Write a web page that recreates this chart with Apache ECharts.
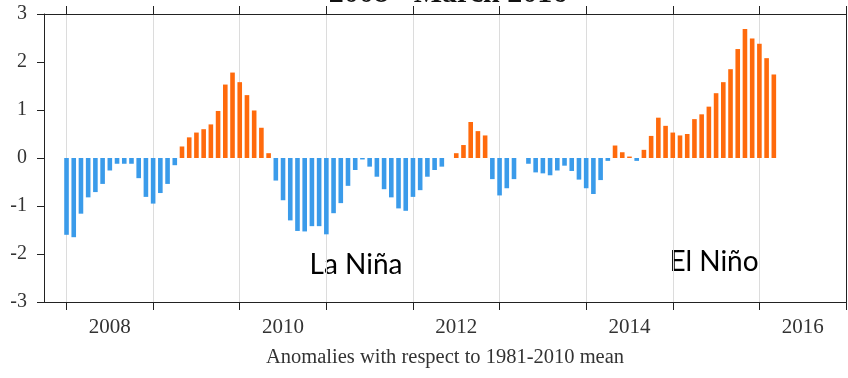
<!DOCTYPE html>
<html lang="en">
	<head>
		<meta charset="utf-8" />
		<title>ENSO anomalies</title>
		<style>
			body { margin: 0; background: #fff; }
		</style>
	</head>
	<body>
		<div id="main" style="width: 848px; height: 378px;"></div>

		<script src="https://cdn.jsdelivr.net/npm/echarts@6/dist/echarts.min.js"></script>
		<script type="text/javascript">
			// monthly anomalies, Jan 2008 .. Mar 2016
			const startYear = 2008;
			const anomalies = [
				-1.60, -1.65, -1.16, -0.82, -0.71, -0.54, -0.26, -0.12, -0.12, -0.12, -0.42, -0.81,
				-0.95, -0.73, -0.54, -0.15, 0.24, 0.43, 0.53, 0.60, 0.70, 0.98, 1.53, 1.78,
				1.58, 1.31, 0.99, 0.63, 0.10, -0.47, -0.88, -1.30, -1.52, -1.53, -1.42, -1.42,
				-1.59, -1.15, -0.94, -0.58, -0.25, -0.03, -0.18, -0.39, -0.65, -0.82, -1.05, -1.10,
				-0.81, -0.67, -0.39, -0.25, -0.18, 0.00, 0.10, 0.27, 0.75, 0.56, 0.47, -0.44,
				-0.78, -0.63, -0.44, 0.00, -0.12, -0.30, -0.32, -0.36, -0.26, -0.16, -0.27, -0.45,
				-0.63, -0.75, -0.46, -0.06, 0.26, 0.12, 0.03, -0.06, 0.17, 0.46, 0.84, 0.67,
				0.53, 0.47, 0.50, 0.81, 0.91, 1.07, 1.35, 1.58, 1.85, 2.27, 2.69, 2.49,
				2.38, 2.08, 1.74
			];
			const yearTicks = [2008, 2009, 2010, 2011, 2012, 2013, 2014, 2015, 2016, 2017];
			const yearLabels = [2008, 2010, 2012, 2014, 2016];

			const posColor = '#ff6a0c';
			const negColor = '#3a9bea';
			const serif = "'Liberation Serif', 'Times New Roman', serif";

			const myChart = echarts.init(document.getElementById('main'));

			const barData = anomalies.map((v, i) => [startYear + i / 12, v]);

			const option = {
				animation: false,
				grid: { left: 44, right: 2, top: 14, bottom: 76 },
				graphic: [
					{
						// title, mostly cut off at the top edge
						type: 'text', x: 448, y: 9,
						style: {
							text: '2008 - March 2016', fill: '#111',
							font: 'bold 30px ' + serif, align: 'center', verticalAlign: 'bottom'
						}
					},
					{
						type: 'text', x: 356, y: 265,
						style: { text: 'La Niña', fill: '#000', font: '28px Lato', align: 'center', verticalAlign: 'middle' }
					},
					{
						type: 'text', x: 714, y: 262,
						style: { text: 'El Niño', fill: '#000', font: '28px Lato', align: 'center', verticalAlign: 'middle' }
					}
				],
				xAxis: [
					{
						type: 'value', min: 2007.74, max: 2017,
						name: 'Anomalies with respect to 1981-2010 mean',
						nameLocation: 'middle', nameGap: 45,
						nameTextStyle: { fontFamily: serif, fontSize: 20.5, color: '#333' },
						axisLine: { onZero: false, lineStyle: { color: '#222', width: 1 } },
						axisTick: { customValues: yearTicks, length: 8, lineStyle: { color: '#222' } },
						axisLabel: {
							customValues: yearLabels.map((y) => y + 0.5),
							formatter: (v) => String(Math.floor(v)),
							fontFamily: serif, fontSize: 21, color: '#333', margin: 15
						},
						splitLine: { show: true, lineStyle: { color: '#dcdcdc', width: 1 } }
					},
					{
						type: 'value', position: 'top', min: 2007.74, max: 2017,
						axisLine: { onZero: false, lineStyle: { color: '#222', width: 1 } },
						axisTick: { customValues: yearTicks, length: 8, lineStyle: { color: '#222' } },
						axisLabel: { show: false },
						splitLine: { show: false }
					}
				],
				yAxis: [
					{
						type: 'value', min: -3, max: 3, interval: 1,
						axisLine: { show: true, onZero: false, lineStyle: { color: '#222', width: 1 } },
						axisTick: { show: true, length: 7, lineStyle: { color: '#222' } },
						axisLabel: { fontFamily: serif, fontSize: 20, color: '#333', margin: 17 },
						splitLine: { show: false }
					},
					{
						type: 'value', position: 'right', min: -3, max: 3, interval: 1,
						axisLine: { show: true, onZero: false, lineStyle: { color: '#222', width: 1 } },
						axisTick: { show: false },
						axisLabel: { show: false },
						splitLine: { show: false }
					}
				],
				series: [
					{
						type: 'bar',
						data: barData,
						barWidth: 4.6,
						itemStyle: {
							color: (p) => (p.value[1] >= 0 ? posColor : negColor)
						}
					}
				]
			};
			myChart.setOption(option);
		</script>
	</body>
</html>
